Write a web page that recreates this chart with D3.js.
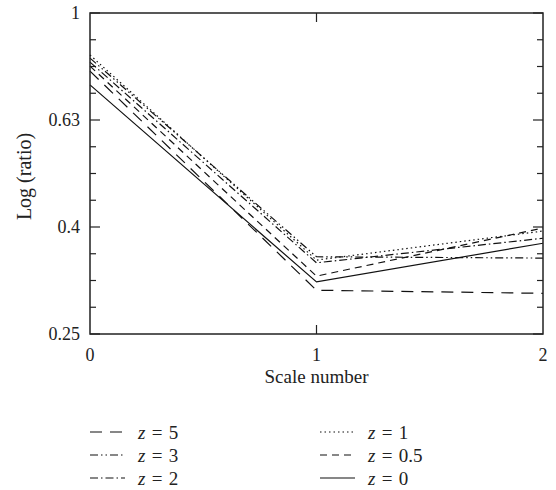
<!DOCTYPE html>
<html>
<head>
<meta charset="utf-8">
<script src="https://cdn.jsdelivr.net/npm/d3@7"></script>
<style>
  body { margin: 0; background: #fff; }
  text { font-family: "Liberation Serif", "DejaVu Serif", serif; fill: #222; }
</style>
</head>
<body>
<div id="chart"></div>
<script>
// data
const scales = [0, 1, 2];
const seriesNames = ['z = 5', 'z = 3', 'z = 2', 'z = 1', 'z = 0.5', 'z = 0'];
const z5 = [0.778, 0.302, 0.298];
const z3 = [0.823, 0.349, 0.347];
const z2 = [0.809, 0.340, 0.378];
const z1 = [0.834, 0.344, 0.390];
const z05 = [0.795, 0.321, 0.395];
const z0 = [0.733, 0.313, 0.370];
const yTickLabels = ['0.25', '0.4', '0.63', '1'];

const w = 556;
const h = 490;
const margin = { left: 90, right: 13, top: 13, bottom: 156 };

const seriesValues = [z5, z3, z2, z1, z05, z0];
const dashes = ['12,8', '8,3,1.5,3,1.5,3', '8,3,1.5,3', '1.5,3', '7,5', null];

const xScale = d3.scaleLinear()
                 .domain([0, 2])
                 .range([margin.left, w - margin.right]);
const yScale = d3.scaleLog()
                 .domain([0.25, 1])
                 .range([h - margin.bottom, margin.top]);

// ticks are evenly spaced in log: 0.25 * 4^(k/3)
const majorTicks = d3.range(4).map((k) => 0.25 * Math.pow(4, k / 3));
const minorTicks = d3.range(13).filter((k) => k % 4 !== 0).map((k) => 0.25 * Math.pow(4, k / 12));

const svg = d3.select('#chart')
  .append('svg')
  .attr('width', w)
  .attr('height', h);

const x0 = xScale(0), x1 = xScale(2), yb = yScale(0.25), yt = yScale(1);

// y ticks on both sides, pointing inward
const tickG = svg.append('g').attr('stroke', '#222').attr('stroke-width', 1.2);
majorTicks.concat(minorTicks).forEach((v) => {
  const len = majorTicks.includes(v) ? 10 : 6;
  tickG.append('line').attr('x1', x0).attr('x2', x0 + len).attr('y1', yScale(v)).attr('y2', yScale(v));
  tickG.append('line').attr('x1', x1).attr('x2', x1 - len).attr('y1', yScale(v)).attr('y2', yScale(v));
});
tickG.append('line').attr('x1', xScale(1)).attr('x2', xScale(1)).attr('y1', yb).attr('y2', yb - 9);
tickG.append('line').attr('x1', xScale(1)).attr('x2', xScale(1)).attr('y1', yt).attr('y2', yt + 9);

svg.selectAll('.ylab')
  .data(majorTicks)
  .enter()
  .append('text')
  .attr('class', 'ylab')
  .attr('x', x0 - 10)
  .attr('y', (d) => yScale(d))
  .attr('dy', '0.35em')
  .attr('text-anchor', 'end')
  .style('font-size', '18px')
  .text((d, i) => yTickLabels[i]);

svg.selectAll('.xlab')
  .data(scales)
  .enter()
  .append('text')
  .attr('class', 'xlab')
  .attr('x', (d) => xScale(d))
  .attr('y', yb + 27)
  .attr('text-anchor', 'middle')
  .style('font-size', '18px')
  .text((d) => d);

svg.append('text')
  .attr('x', (x0 + x1) / 2)
  .attr('y', yb + 49)
  .attr('text-anchor', 'middle')
  .style('font-size', '19px')
  .text('Scale number');

svg.append('text')
  .attr('transform', `translate(31, ${(yb + yt) / 2 + 3}) rotate(-90)`)
  .attr('text-anchor', 'middle')
  .style('font-size', '20px')
  .text('Log (ratio)');

const line = d3.line()
  .x((d, i) => xScale(scales[i]))
  .y((d) => yScale(d));

svg.selectAll('.series')
  .data(seriesValues)
  .enter()
  .append('path')
  .attr('class', 'series')
  .attr('d', (d) => line(d))
  .attr('fill', 'none')
  .attr('stroke', '#111')
  .attr('stroke-width', 1.2)
  .attr('stroke-dasharray', (d, i) => dashes[i]);

// frame
svg.append('rect')
  .attr('x', x0).attr('y', yt)
  .attr('width', x1 - x0).attr('height', yb - yt)
  .attr('fill', 'none')
  .attr('stroke', '#222')
  .attr('stroke-width', 1.5);

// legend, two columns of three
const legend = svg.selectAll('.legend')
  .data(seriesNames)
  .enter()
  .append('g')
  .attr('class', 'legend')
  .attr('transform', (d, i) => `translate(${i < 3 ? 90 : 320}, ${432 + (i % 3) * 23})`);

legend.append('line')
  .attr('x1', 0).attr('x2', 35)
  .attr('stroke', '#111')
  .attr('stroke-width', 1.2)
  .attr('stroke-dasharray', (d, i) => dashes[i]);

legend.append('text')
  .attr('x', 48)
  .attr('dy', '0.35em')
  .style('font-size', '19px')
  .html((d) => '<tspan font-style="italic">z</tspan>\u2004=\u2004' + d.split('= ')[1]);
</script>
</body>
</html>
